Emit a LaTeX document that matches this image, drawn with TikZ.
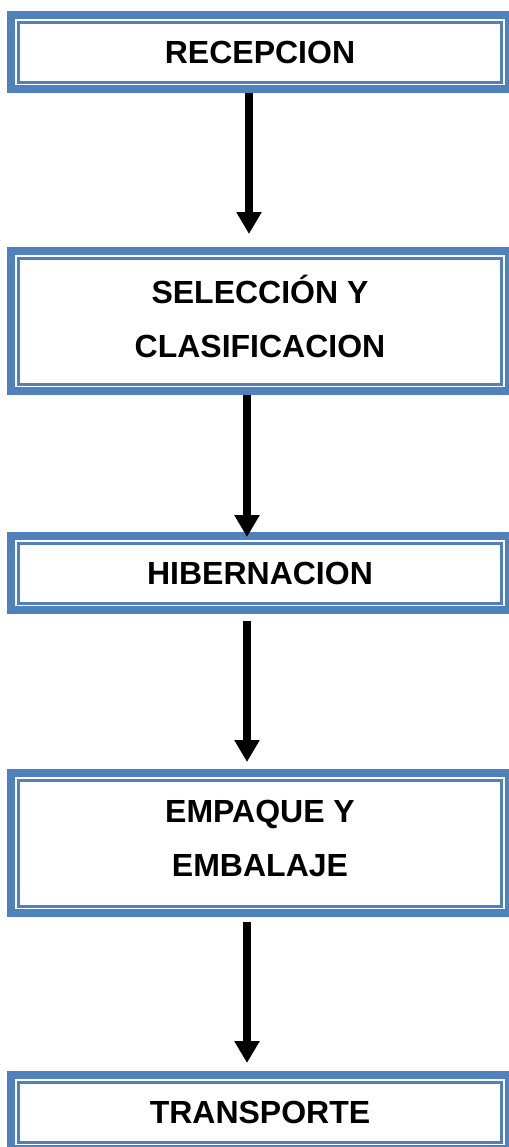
\documentclass[tikz,border=0pt]{standalone}
\usepackage{fontspec}
\setmainfont{Liberation Sans}
\usetikzlibrary{arrows.meta}
\definecolor{boxblue}{RGB}{79,129,189}
\tikzset{
    stage/.style = {rectangle, draw=boxblue, line width=4pt, minimum width=248.75pt, minimum height=37pt,
        inner sep=0pt, align=center, font=\bfseries\fontsize{16}{27}\selectfont,
        path picture={\draw[boxblue, line width=1.5pt]
            ([shift={(3.5pt,-3.5pt)}]path picture bounding box.north west) rectangle
            ([shift={(-3.5pt,3.5pt)}]path picture bounding box.south east);}},
    tall/.style = {minimum height=70pt, text depth=5pt},
    flow/.style = {line width=3.75pt, -{Triangle[width=12pt,length=11pt]}}
}

\begin{document}
\begin{tikzpicture}[x=0.5pt, y=-0.5pt]
  \useasboundingbox (0,0) rectangle (509,1147);

  \node[stage] (rec) at (260,52) {RECEPCION};
  \node[stage, tall] (sel) at (260,321) {SELECCIÓN Y\\CLASIFICACION};
  \node[stage] (hib) at (260,573) {HIBERNACION};
  \node[stage, tall] (emp) at (260,843) {EMPAQUE Y\\EMBALAJE};
  \node[stage] (tra) at (260,1112) {TRANSPORTE};

  \draw[flow, shorten >=6.5pt] ([xshift=-5.5pt]rec.south) -- ([xshift=-5.5pt]sel.north);
  \draw[flow, shorten >=-2.5pt] ([xshift=-6.5pt]sel.south) -- ([xshift=-6.5pt]hib.north);
  \draw[flow, shorten <=3.5pt, shorten >=3.5pt] ([xshift=-6.5pt]hib.south) -- ([xshift=-6.5pt]emp.north);
  \draw[flow, shorten <=2.5pt, shorten >=4pt] ([xshift=-6.5pt]emp.south) -- ([xshift=-6.5pt]tra.north);
\end{tikzpicture}
\end{document}
